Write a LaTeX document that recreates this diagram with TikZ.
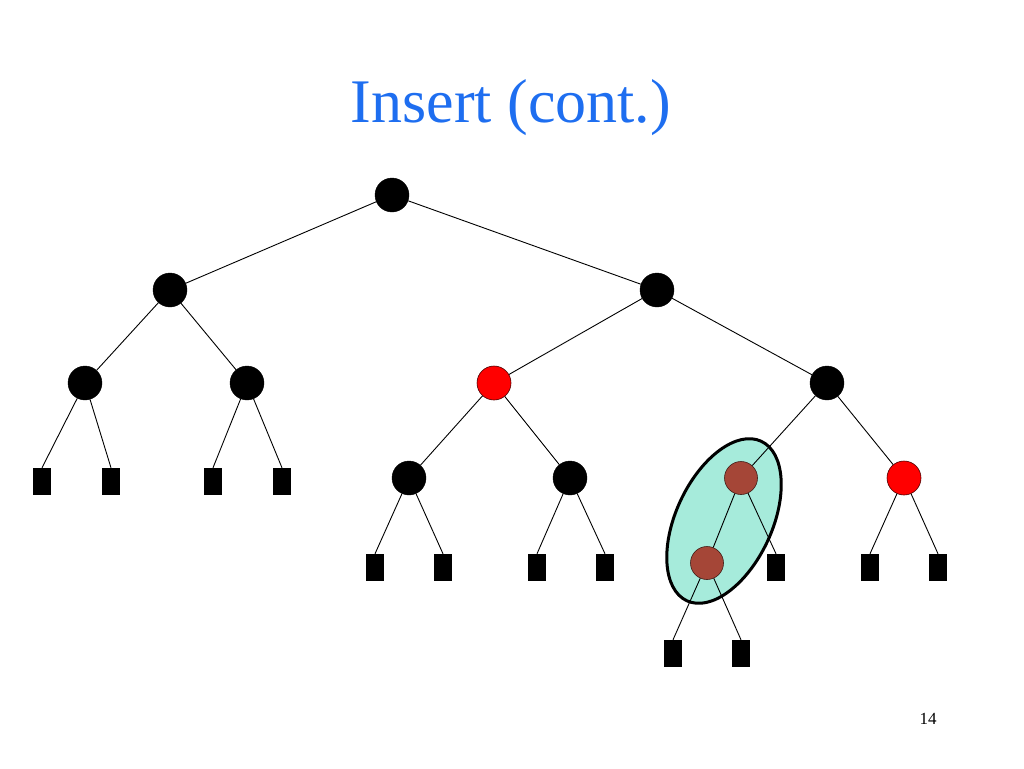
\documentclass[tikz,border=0pt]{standalone}
\usepackage{fontspec}
\setmainfont{Liberation Serif}
\definecolor{titleblue}{RGB}{30,110,240}
\definecolor{nodered}{RGB}{255,0,0}
\definecolor{nodebrown}{RGB}{165,70,55}
\definecolor{aqua}{RGB}{166,235,219}
\begin{document}
\begin{tikzpicture}[x=1pt,y=-1pt,
  bnode/.style={circle,fill=black,draw=black,inner sep=0pt,minimum size=34pt},
  rnode/.style={circle,fill=nodered,draw=black!70!red,line width=0.6pt,inner sep=0pt,minimum size=34pt},
  brnode/.style={circle,fill=nodebrown,draw=black!60!nodebrown,line width=0.6pt,inner sep=0pt,minimum size=33pt},
  leaf/.style={rectangle,fill=black,draw=black,inner sep=0pt,minimum width=17pt,minimum height=26pt},
  edge/.style={draw=black,line width=0.9pt}]
\useasboundingbox (0,0) rectangle (1024,768);
\node[text=titleblue,font=\fontsize{62}{68}\selectfont] (title) at (511,108) {Insert (cont.)};
\node[font=\fontsize{17}{20}\selectfont] (pnum) at (928,719) {14};
% ellipse highlight
\filldraw[fill=aqua,draw=black,line width=3pt,rotate around={-25:(724,521)}] (724,521) ellipse [x radius=48pt,y radius=88pt];
% nodes
\node[bnode] (r) at (392,195) {};
\node[bnode] (a) at (170,290) {};
\node[bnode] (b) at (657,290) {};
\node[bnode] (aa) at (85,383) {};
\node[bnode] (ab) at (247,383) {};
\node[rnode] (ba) at (494,383) {};
\node[bnode] (bb) at (827,383) {};
\node[leaf] (l1) at (42,481) {};
\node[leaf] (l2) at (111,481) {};
\node[leaf] (l3) at (213,481) {};
\node[leaf] (l4) at (282,481) {};
\node[bnode] (baa) at (409,478) {};
\node[bnode] (bab) at (570,478) {};
\node[brnode] (bba) at (741,478) {};
\node[rnode] (bbb) at (904,478) {};
\node[leaf] (l5) at (375,567) {};
\node[leaf] (l6) at (443,567) {};
\node[leaf] (l7) at (537,567) {};
\node[leaf] (l8) at (605,567) {};
\node[brnode] (bbaa) at (707,563) {};
\node[leaf] (l9) at (776,567) {};
\node[leaf] (l10) at (870,567) {};
\node[leaf] (l11) at (938,567) {};
\node[leaf] (l12) at (673,653) {};
\node[leaf] (l13) at (741,653) {};
% edges
\draw[edge] (r) -- (a);
\draw[edge] (r) -- (b);
\draw[edge] (a) -- (aa);
\draw[edge] (a) -- (ab);
\draw[edge] (b) -- (ba);
\draw[edge] (b) -- (bb);
\draw[edge] (aa) -- (l1.north);
\draw[edge] (aa) -- (l2.north);
\draw[edge] (ab) -- (l3.north);
\draw[edge] (ab) -- (l4.north);
\draw[edge] (ba) -- (baa);
\draw[edge] (ba) -- (bab);
\draw[edge] (bb) -- (bba);
\draw[edge] (bb) -- (bbb);
\draw[edge] (baa) -- (l5.north);
\draw[edge] (baa) -- (l6.north);
\draw[edge] (bab) -- (l7.north);
\draw[edge] (bab) -- (l8.north);
\draw[edge] (bba) -- (bbaa);
\draw[edge] (bba) -- (l9.north);
\draw[edge] (bbb) -- (l10.north);
\draw[edge] (bbb) -- (l11.north);
\draw[edge] (bbaa) -- (l12.north);
\draw[edge] (bbaa) -- (l13.north);
\end{tikzpicture}
\end{document}
